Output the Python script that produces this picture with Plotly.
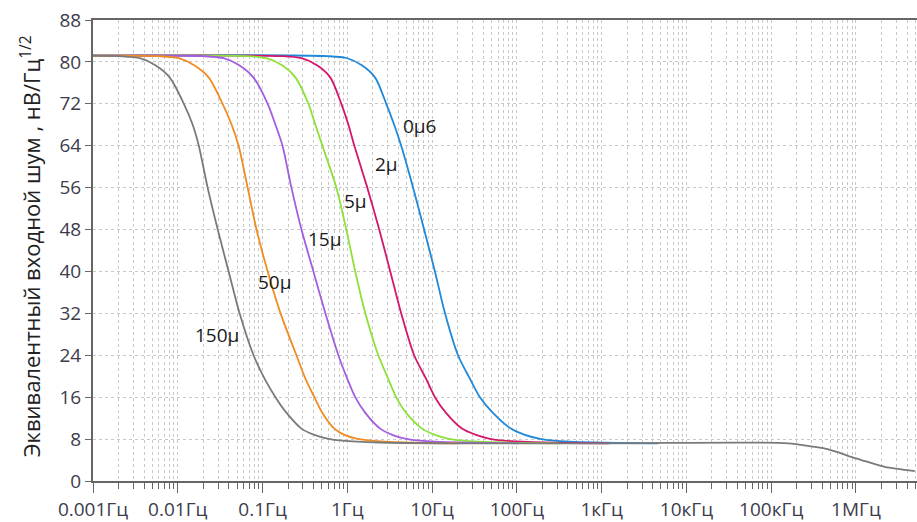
import plotly.graph_objects as go

# Frequency tick labels (decades)
tick_freqs = [0.001, 0.01, 0.1, 1, 10, 100, 1e3, 1e4, 1e5, 1e6]
tick_labels = ["0.001Гц", "0.01Гц", "0.1Гц", "1Гц", "10Гц", "100Гц",
               "1кГц", "10кГц", "100кГц", "1МГц"]
y_ticks = [0, 8, 16, 24, 32, 40, 48, 56, 64, 72, 80, 88]

# Equivalent input noise curves (Hz, nV/sqrt(Hz)), one per capacitor value
f_150u = [0.001, 0.00208, 0.00357, 0.00551, 0.00805, 0.0118, 0.0150, 0.0177,
          0.0225, 0.0296, 0.0398, 0.0536, 0.0783, 0.106, 0.142, 0.192, 0.288,
          0.409, 0.582, 0.873, 2.38, 15.8, 1210, 158000, 296000, 432000, 614000,
          873000, 1.28e6, 2.19e6, 4.94e6]
v_150u = [81.2, 81.1, 80.7, 79.3, 77.0, 72.0, 68.0, 64.0,
          56.0, 48.0, 40.0, 32.0, 24.0, 19.5, 16.0, 13.0, 10.0,
          8.8, 8.1, 7.7, 7.35, 7.2, 7.2, 7.2, 6.6, 6.2, 5.5,
          4.6, 3.8, 2.7, 1.9]

f_50u = [0.001, 0.00598, 0.0103, 0.0158, 0.0232, 0.0338, 0.0432, 0.0522,
         0.0667, 0.0849, 0.115, 0.163, 0.251, 0.321, 0.409, 0.508, 0.703,
         0.923, 1.28, 1.92, 4.69, 20.8]
v_50u = [81.2, 81.1, 80.7, 79.3, 77.0, 72.0, 68.0, 64.0,
         56.0, 48.0, 40.0, 32.0, 24.0, 19.5, 16.0, 13.0, 10.0,
         8.8, 8.1, 7.7, 7.35, 7.2]

f_15u = [0.001, 0.0202, 0.0348, 0.0536, 0.0783, 0.115, 0.142, 0.172,
         0.219, 0.288, 0.398, 0.551, 0.784, 1.0, 1.24, 1.63, 2.44,
         3.38, 4.81, 7.22, 20.8, 106]
v_15u = [81.2, 81.1, 80.7, 79.3, 77.0, 72.0, 68.0, 64.0,
         56.0, 48.0, 40.0, 32.0, 24.0, 19.5, 16.0, 13.0, 10.0,
         8.8, 8.1, 7.7, 7.35, 7.2]

f_5u = [0.001, 0.0648, 0.111, 0.172, 0.245, 0.348, 0.420, 0.508,
        0.743, 0.973, 1.24, 1.63, 2.32, 3.04, 3.77, 4.94, 7.62,
        10.8, 15.4, 23.2, 70.3, 312]
v_5u = [81.2, 81.1, 80.7, 79.3, 77.0, 72.0, 68.0, 64.0,
        56.0, 48.0, 40.0, 32.0, 24.0, 19.5, 16.0, 13.0, 10.0,
        8.8, 8.1, 7.7, 7.35, 7.2]

f_2u = [0.001, 0.167, 0.288, 0.444, 0.631, 0.850, 1.03, 1.21,
        1.72, 2.38, 3.21, 4.32, 6.14, 8.50, 10.8, 14.6, 22.5,
        33.0, 46.9, 70.3, 208, 1210]
v_2u = [81.2, 81.1, 80.7, 79.3, 77.0, 72.0, 68.0, 64.0,
        56.0, 48.0, 40.0, 32.0, 24.0, 19.5, 16.0, 13.0, 10.0,
        8.8, 8.1, 7.7, 7.35, 7.2]

f_0u6 = [0.001, 0.582, 1.0, 1.50, 2.13, 2.88, 3.57, 4.32,
         5.97, 8.05, 10.8, 14.2, 20.2, 28.0, 36.7, 52.2, 85.0,
         124, 182, 272, 805, 4690]
v_0u6 = [81.2, 81.1, 80.7, 79.3, 77.0, 72.0, 68.0, 64.0,
         56.0, 48.0, 40.0, 32.0, 24.0, 19.5, 16.0, 13.0, 10.0,
         8.8, 8.1, 7.7, 7.35, 7.2]

series = [
    ("0µ6", f_0u6, v_0u6, "#1f88d8"),
    ("2µ", f_2u, v_2u, "#d4176c"),
    ("5µ", f_5u, v_5u, "#8ee03a"),
    ("15µ", f_15u, v_15u, "#a35ee0"),
    ("50µ", f_50u, v_50u, "#f08c22"),
    ("150µ", f_150u, v_150u, "#7a7a7a"),
]

# Curve labels: (text, log10 frequency, value)
label_pos = {
    "0µ6": (0.85, 67.7),
    "2µ": (0.46, 60.6),
    "5µ": (0.094, 53.4),
    "15µ": (-0.27, 46.2),
    "50µ": (-0.86, 38.0),
    "150µ": (-1.54, 27.9),
}

minor_vals = [m * 10.0 ** k for k in range(-3, 7) for m in range(2, 10)]

fig = go.Figure()
for name, f, v, color in series:
    fig.add_trace(go.Scatter(
        x=f, y=v, mode="lines", name=name,
        line=dict(color=color, width=1.8, shape="spline", smoothing=0.8),
        hoverinfo="skip", showlegend=False,
    ))

for name, (lx, ly) in label_pos.items():
    fig.add_annotation(x=lx, y=ly, xref="x", yref="y", text=name, showarrow=False,
                       font=dict(family="Open Sans", size=19, color="#1a1a1a"),
                       xanchor="center", yanchor="middle")

fig.add_annotation(
    xref="paper", yref="paper", x=0, y=0.509, xshift=-63,
    text="Эквивалентный входной шум , нВ/Гц<sup>1/2</sup>",
    textangle=-90, showarrow=False, xanchor="center", yanchor="middle",
    font=dict(family="Open Sans", size=22, color="#222222"),
)

grid_color = "#c9c9c9"
fig.update_xaxes(
    type="log", range=[-3, 6.72],
    tickvals=tick_freqs, ticktext=tick_labels,
    ticks="outside", ticklen=10, tickcolor="#666666", tickwidth=1.2,
    tickfont=dict(family="Open Sans", size=19, color="#3c3c4c"),
    showgrid=True, gridcolor=grid_color, griddash="dot", gridwidth=1,
    minor=dict(tickvals=minor_vals, ticks="outside", ticklen=6, tickcolor="#666666",
               showgrid=True, gridcolor=grid_color, griddash="dot", gridwidth=1),
    showline=True, linecolor="#666666", linewidth=2, mirror=True,
    zeroline=False,
)
fig.update_yaxes(
    range=[0, 88], tickvals=y_ticks,
    ticks="outside", ticklen=6, tickcolor="#666666", tickwidth=1.2,
    tickfont=dict(family="Open Sans", size=19, color="#3c3c4c"),
    showgrid=True, gridcolor=grid_color, griddash="dot", gridwidth=1,
    showline=True, linecolor="#666666", linewidth=2,
    zeroline=False,
)
fig.update_layout(
    width=917, height=522,
    margin=dict(l=93, r=0, t=20, b=39),
    paper_bgcolor="white", plot_bgcolor="white",
)
fig.write_html("out.html")
